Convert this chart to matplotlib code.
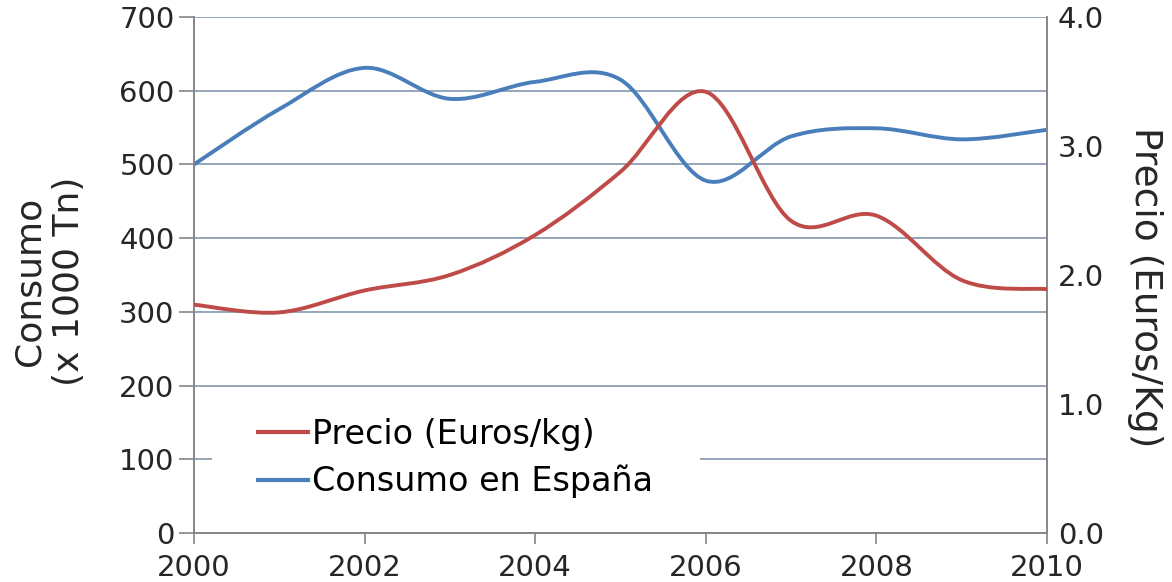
import numpy as np
import matplotlib
matplotlib.use('Agg')
import matplotlib.pyplot as plt
from matplotlib.path import Path
from matplotlib.patches import PathPatch, Rectangle
from matplotlib.lines import Line2D

years = [2000, 2001, 2002, 2003, 2004, 2005, 2006, 2007, 2008, 2009, 2010]
consumo = [500, 575, 631, 589, 612, 615, 478, 538, 549, 534, 547]
precio = [1.77, 1.71, 1.88, 2.00, 2.31, 2.80, 3.42, 2.42, 2.46, 1.96, 1.89]

red = '#BE4B48'
blue = '#4A7EBB'
grid_col = '#8497AE'
spine_col = '#868686'
text_col = '#262626'


def smooth_path(xs, ys):
    # Excel-style smoothed line: cubic bezier between the points
    xs = np.asarray(xs, float)
    ys = np.asarray(ys, float)
    n = len(xs)
    verts = [(xs[0], ys[0])]
    codes = [Path.MOVETO]
    for i in range(n - 1):
        p0 = max(i - 1, 0)
        p3 = min(i + 2, n - 1)
        c1 = (xs[i] + (xs[i + 1] - xs[p0]) / 6, ys[i] + (ys[i + 1] - ys[p0]) / 6)
        c2 = (xs[i + 1] - (xs[p3] - xs[i]) / 6, ys[i + 1] - (ys[p3] - ys[i]) / 6)
        verts += [c1, c2, (xs[i + 1], ys[i + 1])]
        codes += [Path.CURVE4] * 3
    return Path(verts, codes)


fig = plt.figure(figsize=(11.72, 5.82), dpi=100)
ax = fig.add_axes([0.1655, 0.0842, 0.7278, 0.8866])
ax2 = ax.twinx()

ax.set_xlim(2000, 2010)
ax.set_ylim(0, 700)
ax2.set_ylim(0, 4)

ax.set_xticks(range(2000, 2011, 2))
ax.set_yticks(range(0, 701, 100))
ax2.set_yticks([0, 1, 2, 3, 4])
ax2.set_yticklabels(['0.0', '1.0', '2.0', '3.0', '4.0'])

ax.yaxis.grid(True, color=grid_col, linewidth=1.2)
ax.set_axisbelow(True)

for a in (ax, ax2):
    a.spines['top'].set_visible(False)
    for s in ('left', 'right', 'bottom'):
        a.spines[s].set_color(spine_col)
        a.spines[s].set_linewidth(1.2)
    a.tick_params(colors=spine_col, labelcolor=text_col, labelsize=21, width=1.2)
ax.tick_params(axis='y', length=11, pad=3)
ax.tick_params(axis='x', length=8, pad=7)
ax2.tick_params(axis='y', length=0, pad=8)

ax.add_patch(PathPatch(smooth_path(years, consumo), fill=False, edgecolor=blue,
                       linewidth=2.8, capstyle='round', joinstyle='round', zorder=3))
ax2.add_patch(PathPatch(smooth_path(years, precio), fill=False, edgecolor=red,
                        linewidth=2.8, capstyle='round', joinstyle='round', zorder=3))

ax.set_ylabel('Consumo\n(x 1000 Tn)', fontsize=26, color=text_col, linespacing=1.2)
ax.yaxis.label.set_va('center')
ax.yaxis.set_label_coords(-0.17, 0.488)
ax2.set_ylabel('Precio (Euros/Kg)', fontsize=27, color=text_col, rotation=-90)
ax2.yaxis.label.set_va('center')
ax2.yaxis.set_label_coords(1.115, 0.477)

# white box behind the legend, covering the gridline
ax.add_patch(Rectangle((0.021, 0.035), 0.572, 0.225, transform=ax.transAxes,
                       facecolor='white', edgecolor='none', zorder=2))
handles = [Line2D([], [], color=red, linewidth=3),
           Line2D([], [], color=blue, linewidth=3)]
leg = ax.legend(handles, ['Precio (Euros/kg)', 'Consumo en España'],
                loc='center left', bbox_to_anchor=(0.075, 0.145), frameon=False,
                fontsize=24, handlelength=1.5, handletextpad=0.12,
                labelspacing=0.42, borderaxespad=0, borderpad=0)
for t in leg.get_texts():
    t.set_color('black')

fig.savefig('out.png', dpi=100)
